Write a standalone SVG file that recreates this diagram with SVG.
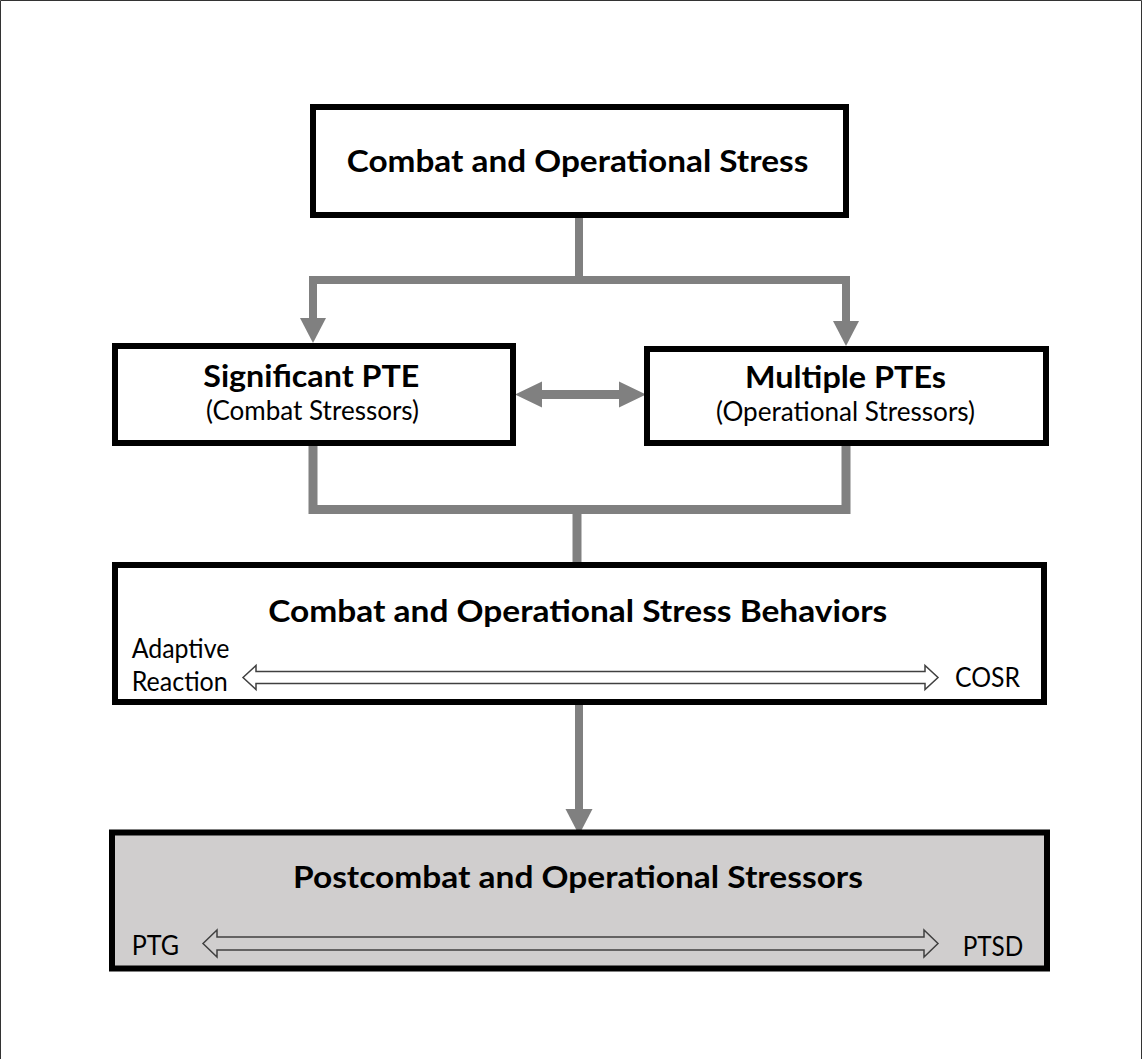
<svg xmlns="http://www.w3.org/2000/svg" width="1143" height="1059" viewBox="0 0 1143 1059">
  <style>
    .box { fill: #ffffff; stroke: #000000; stroke-width: 6; }
    .gray { fill: #d0cece; }
    .conn { fill: none; stroke: #808080; stroke-linejoin: miter; stroke-linecap: butt; }
    .head { fill: #808080; stroke: none; }
    .hollow { stroke: #404040; stroke-width: 1.5; stroke-linejoin: miter; }
    .t { font-family: Lato, "Open Sans", "Liberation Sans", sans-serif; fill: #000000; }
    .b { font-weight: bold; font-size: 30px; }
    .r { font-weight: normal; font-size: 26px; }
  </style>
  <rect x="0" y="0" width="1143" height="1059" fill="#ffffff"/>
  <path d="M0.5,1059 V0.5 H1141.5 V1059" fill="none" stroke="#333333" stroke-width="1"/>

  <g id="connectors">
    <path class="conn" stroke-width="8" d="M579,218 V280"/>
    <path class="conn" stroke-width="8" d="M313,320 V280 H846 V322"/>
    <polygon class="head" points="300,318 326,318 313,343"/>
    <polygon class="head" points="833,321 859,321 846,346"/>
    <polygon class="head" points="515,394.5 542,381.5 542,390 619,390 619,381.5 646,394.5 619,407.5 619,399 542,399 542,407.5"/>
    <path class="conn" stroke-width="9" d="M313,446 V509.5 H846 V446"/>
    <path class="conn" stroke-width="9" d="M577,509.5 V563"/>
    <path class="conn" stroke-width="8" d="M579,705 V810"/>
    <polygon class="head" points="565.5,809 592.5,809 579,835"/>
  </g>

  <g id="node-combat-operational-stress">
    <rect class="box" x="313" y="107" width="533" height="108"/>
    <text class="t b" x="346.7" y="171.5" textLength="461.6" lengthAdjust="spacingAndGlyphs">Combat and Operational Stress</text>
  </g>

  <g id="node-significant-pte">
    <rect class="box" x="115" y="346" width="398" height="97"/>
    <text class="t b" x="203.3" y="386.7" textLength="216" lengthAdjust="spacingAndGlyphs">Significant PTE</text>
    <text class="t r" x="206" y="420" textLength="213" lengthAdjust="spacingAndGlyphs">(Combat Stressors)</text>
  </g>

  <g id="node-multiple-ptes">
    <rect class="box" x="647" y="349" width="399" height="94"/>
    <text class="t b" x="745" y="387.5" textLength="201" lengthAdjust="spacingAndGlyphs">Multiple PTEs</text>
    <text class="t r" x="716" y="421" textLength="259" lengthAdjust="spacingAndGlyphs">(Operational Stressors)</text>
  </g>

  <g id="node-stress-behaviors">
    <rect class="box" x="115" y="565" width="929" height="137"/>
    <text class="t b" x="268.3" y="621.7" textLength="619" lengthAdjust="spacingAndGlyphs">Combat and Operational Stress Behaviors</text>
    <text class="t r" x="131.7" y="658.3" textLength="97.6" lengthAdjust="spacingAndGlyphs">Adaptive</text>
    <text class="t r" x="131.7" y="691" textLength="96" lengthAdjust="spacingAndGlyphs">Reaction</text>
    <polygon class="hollow" fill="#ffffff" points="243,677.5 256,665.5 256,671.5 925,671.5 925,665.5 938,677.5 925,689.5 925,683.5 256,683.5 256,689.5"/>
    <text class="t r" x="955" y="687" textLength="65" lengthAdjust="spacingAndGlyphs">COSR</text>
  </g>

  <g id="node-postcombat-stressors">
    <rect class="box gray" x="112" y="832.5" width="935" height="136"/>
    <text class="t b" x="293" y="888.3" textLength="570" lengthAdjust="spacingAndGlyphs">Postcombat and Operational Stressors</text>
    <text class="t r" x="131.7" y="955" textLength="47.3" lengthAdjust="spacingAndGlyphs">PTG</text>
    <polygon class="hollow gray" points="203,943.5 217,930 217,937 924,937 924,930 938,943.5 924,957 924,950 217,950 217,957"/>
    <text class="t r" x="962.7" y="956" textLength="60.6" lengthAdjust="spacingAndGlyphs">PTSD</text>
  </g>
</svg>
